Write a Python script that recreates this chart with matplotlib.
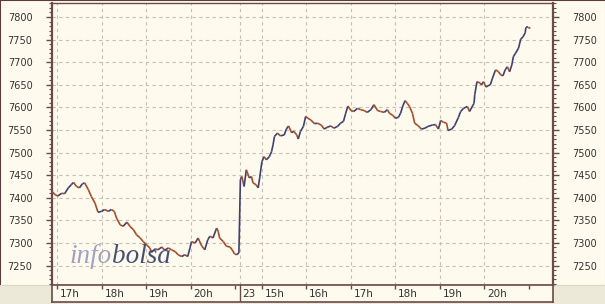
import numpy as np
import matplotlib.pyplot as plt
from matplotlib.collections import LineCollection

# intraday quotes, two sessions
day1_time = ["16:53", "16:57", "17:01", "17:06", "17:10", "17:15", "17:19", "17:22", "17:26", "17:30",
             "17:34", "17:37", "17:42", "17:46", "17:51", "17:55", "18:00", "18:04", "18:09", "18:13",
             "18:17", "18:20", "18:25", "18:29", "18:34", "18:38", "18:43", "18:47", "18:52", "18:56",
             "19:01", "19:05", "19:07", "19:12", "19:16", "19:21", "19:25", "19:30", "19:34", "19:39",
             "19:43", "19:48", "19:52", "19:56", "19:59", "20:01", "20:06", "20:10", "20:15", "20:19",
             "20:23", "20:26", "20:30", "20:35", "20:37", "20:39", "20:44", "20:48", "20:53", "20:56",
             "20:59", "21:02", "21:05"]
day1_price = [7414, 7407, 7404, 7410, 7409, 7422, 7429, 7434, 7425, 7422,
              7431, 7433, 7418, 7403, 7388, 7368, 7370, 7374, 7370, 7374,
              7370, 7355, 7340, 7337, 7346, 7337, 7329, 7318, 7311, 7303,
              7295, 7289, 7279, 7287, 7285, 7291, 7284, 7289, 7285, 7281,
              7274, 7270, 7274, 7270, 7289, 7303, 7300, 7311, 7293, 7285,
              7307, 7315, 7311, 7333, 7326, 7311, 7303, 7293, 7291, 7285,
              7276, 7274, 7278]

day2_time = ["14:31", "14:33", "14:36", "14:39", "14:43", "14:46", "14:48", "14:52", "14:55", "14:57",
             "15:00", "15:03", "15:06", "15:10", "15:13", "15:15", "15:17", "15:21", "15:25", "15:30",
             "15:33", "15:36", "15:40", "15:43", "15:47", "15:49", "15:52", "15:56", "15:59", "16:02",
             "16:06", "16:11", "16:15", "16:20", "16:24", "16:28", "16:33", "16:37", "16:42", "16:46",
             "16:50", "16:53", "16:56", "17:00", "17:04", "17:09", "17:13", "17:18", "17:22", "17:27",
             "17:31", "17:36", "17:40", "17:45", "17:49", "17:52", "17:56", "18:00", "18:04", "18:07",
             "18:10", "18:13", "18:16", "18:19", "18:23", "18:26", "18:31", "18:35", "18:40", "18:44",
             "18:50", "18:54", "18:58", "19:01", "19:05", "19:09", "19:11", "19:16", "19:20", "19:25",
             "19:28", "19:32", "19:37", "19:40", "19:44", "19:46", "19:47", "19:50", "19:54", "19:56",
             "19:59", "20:02", "20:05", "20:08", "20:11", "20:15", "20:19", "20:22", "20:25", "20:28",
             "20:31", "20:34", "20:37", "20:39", "20:42", "20:46", "20:49", "20:52", "20:55", "20:56",
             "20:59", "21:02"]
day2_price = [7440, 7447, 7425, 7462, 7444, 7447, 7433, 7429, 7422, 7444,
              7480, 7491, 7484, 7491, 7502, 7517, 7536, 7543, 7537, 7539,
              7552, 7559, 7544, 7547, 7539, 7530, 7547, 7558, 7580, 7576,
              7572, 7564, 7565, 7561, 7552, 7556, 7559, 7554, 7558, 7565,
              7569, 7587, 7603, 7593, 7591, 7598, 7595, 7593, 7589, 7595,
              7606, 7593, 7591, 7589, 7595, 7587, 7583, 7576, 7578, 7587,
              7603, 7615, 7609, 7602, 7587, 7565, 7559, 7552, 7554, 7558,
              7561, 7562, 7552, 7571, 7567, 7565, 7549, 7552, 7560, 7578,
              7591, 7598, 7602, 7591, 7603, 7609, 7628, 7657, 7654, 7650,
              7657, 7645, 7648, 7650, 7665, 7683, 7679, 7672, 7670, 7683,
              7690, 7679, 7694, 7712, 7720, 7731, 7751, 7756, 7765, 7777,
              7777, 7775]

day1_hours = [17, 18, 19, 20, 21]
day2_hours = [15, 16, 17, 18, 19, 20, 21]
day2_label = "23"
y_ticks = np.arange(7250, 7801, 50)

day1_start = 16 + 53 / 60.
day1_end = 21.1
day2_start = 14.5

CREAM = '#FFFAEE'
GREY = '#ECE9D8'
DARK = '#6B4A4A'
UP = '#3E4272'
DOWN = '#A34E2C'
GRID = '#C6BFB2'


def to_h(s):
    h, m = s.split(':')
    return int(h) + int(m) / 60.


gap = day1_end - day1_start
x1 = [to_h(t) - day1_start for t in day1_time]
x2 = [gap + to_h(t) - day2_start for t in day2_time]
x = np.array(x1 + x2)
y = np.array(day1_price + day2_price)
xmax = (553 - 52) / 44.5

W, H = 605, 304
fig = plt.figure(figsize=(W / 100, H / 100), dpi=100, facecolor=GREY)

# cream panel behind everything
bg = fig.add_axes([0, 1 - 285 / H, 1, 285 / H])
bg.set_facecolor(CREAM)
bg.set_xticks([])
bg.set_yticks([])
for s in ['left', 'top']:
    bg.spines[s].set_color('#5A3C3C')
    bg.spines[s].set_linewidth(1.5)
for s in ['right', 'bottom']:
    bg.spines[s].set_color('#D8D4C8')

ax = fig.add_axes([52 / W, 19 / H, 501 / W, 282 / H])
ax.set_facecolor(CREAM)
ax.set_xlim(0, xmax)
ax.set_ylim(7207, 7831)

# price line, coloured by direction
pts = np.column_stack([x, y])
segs = np.stack([pts[:-1], pts[1:]], axis=1)
cols = [UP if b >= a else DOWN for a, b in zip(y[:-1], y[1:])]
lc = LineCollection(segs, colors=cols, linewidths=1.2, zorder=3)
ax.add_collection(lc)

# grid
grid_x = [h - day1_start for h in day1_hours[:-1]] + [gap] + [gap + h - day2_start for h in day2_hours[:-1]]
for gx in grid_x:
    ax.axvline(gx, color=GRID, lw=0.8, ls=(0, (3, 3)), zorder=1)
for gy in y_ticks:
    ax.axhline(gy, color=GRID, lw=0.8, ls=(0, (3, 3)), zorder=1)

ax.set_xticks([])
ax.set_yticks(y_ticks)
ax.set_yticks(np.arange(7210, 7831, 10), minor=True)
ax.tick_params(axis='y', which='major', left=True, right=True, labelleft=True, labelright=True,
               length=4, width=1, color=DARK, labelsize=7, labelcolor='#333333', pad=10)
ax.tick_params(axis='y', which='minor', left=True, right=True, length=2, width=0.8, color=DARK)
for s in ax.spines.values():
    s.set_color(DARK)
ax.spines['left'].set_linewidth(1.6)
ax.spines['right'].set_linewidth(1.6)
ax.spines['top'].set_linewidth(1)
ax.spines['bottom'].set_linewidth(1)

# watermark
fig.text(112 / W, 1 - 263 / H, 'info', ha='right', va='baseline', fontsize=19.5,
         family='Liberation Serif', style='italic', color='#A2A2BE', zorder=0)
fig.text(112 / W, 1 - 263 / H, 'bolsa', ha='left', va='baseline', fontsize=19.5,
         family='Liberation Serif', style='italic', color='#465072', zorder=0)

# time band
bx = fig.add_axes([52 / W, 2 / H, 501 / W, 17 / H])
bx.set_facecolor(CREAM)
bx.set_xlim(0, xmax)
bx.set_ylim(0, 1)
bx.set_yticks([])
tick_x = [h - day1_start for h in day1_hours] + [gap + h - day2_start for h in day2_hours]
bx.set_xticks(tick_x)
bx.tick_params(axis='x', top=True, bottom=False, direction='in', length=3, width=1,
               color=DARK, labelbottom=False)
for s in bx.spines.values():
    s.set_color(DARK)
    s.set_linewidth(1.2)
bx.axvline(gap, color=DARK, lw=1)

labels = [(h - day1_start, '%dh' % h) for h in day1_hours[:-1]]
labels += [(gap, day2_label)]
labels += [(gap + h - day2_start, '%dh' % h) for h in day2_hours[:-1]]
for px, txt in labels:
    bx.annotate(txt, xy=(px, 0.45), xycoords=('data', 'axes fraction'), xytext=(2, 0),
                textcoords='offset points', ha='left', va='center', fontsize=7.5, color='#333333')

fig.savefig('out.png', dpi=100, facecolor=GREY)
